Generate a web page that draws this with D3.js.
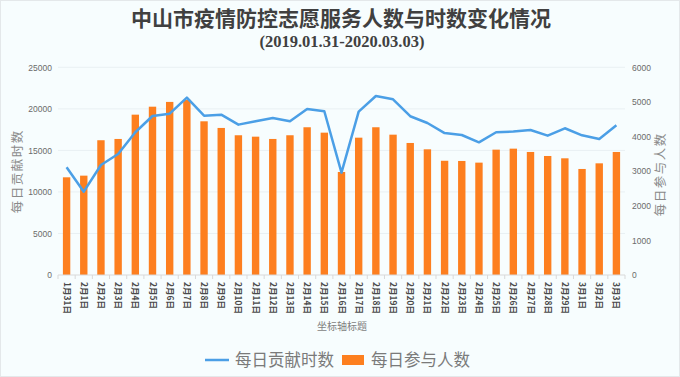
<!DOCTYPE html>
<html><head><meta charset="utf-8">
<script src="https://cdn.jsdelivr.net/npm/d3@7"></script>
<style>
html,body{margin:0;padding:0;background:#f7fdfe;}
svg{display:block;}
</style></head>
<body>
<svg id="c" width="680" height="377"></svg>
<script>
const categories = ["1月31日","2月1日","2月2日","2月3日","2月4日","2月5日","2月6日","2月7日","2月8日","2月9日","2月10日","2月11日","2月12日","2月13日","2月14日","2月15日","2月16日","2月17日","2月18日","2月19日","2月20日","2月21日","2月22日","2月23日","2月24日","2月25日","2月26日","2月27日","2月28日","2月29日","3月1日","3月2日","3月3日"];
// 每日贡献时数 (line, left axis)
const hours = [12970,10030,13240,14570,17180,19140,19420,21350,19180,19300,18100,18500,18900,18500,19990,19710,12320,19660,21550,21150,19110,18300,17080,16850,15970,17180,17260,17460,16770,17660,16810,16370,18020];
// 每日参与人数 (bars, right axis)
const people = [2822,2870,3893,3930,4632,4862,5000,5060,4440,4248,4037,3996,3930,4037,4268,4112,2976,3967,4268,4054,3814,3631,3300,3294,3246,3621,3650,3554,3438,3371,3063,3226,3554];
const leftTicks = [0,5000,10000,15000,20000,25000];
const rightTicks = [0,1000,2000,3000,4000,5000,6000];
const title = "中山市疫情防控志愿服务人数与时数变化情况";
const subtitle = "(2019.01.31-2020.03.03)";
const xTitle = "坐标轴标题";
const leftTitle = "每日贡献时数";
const rightTitle = "每日参与人数";

const svg = d3.select("#c");
const W = 680, H = 377;
const m = {l:58, r:55, t:67.3, b:102};
const pw = W - m.l - m.r, ph = H - m.t - m.b;
const cjk = "'Noto Sans CJK SC','Noto Sans',sans-serif";

svg.append("rect").attr("x",0.5).attr("y",0.5).attr("width",W-1).attr("height",H-1)
  .attr("fill","#f7fdfe").attr("stroke","#e4e8ea");

const x = d3.scaleBand().domain(categories).range([m.l, m.l+pw]).paddingInner(0.57).paddingOuter(0.285);
const xb = d3.scaleBand().domain(categories).range([m.l, m.l+pw]);
const yL = d3.scaleLinear().domain([0,25000]).range([m.t+ph, m.t]);
const yR = d3.scaleLinear().domain([0,6000]).range([m.t+ph, m.t]);

// gridlines
svg.append("g").selectAll("line").data(leftTicks.slice(1)).join("line")
  .attr("x1",m.l).attr("x2",m.l+pw).attr("y1",d=>yL(d)).attr("y2",d=>yL(d))
  .attr("stroke","#e9f0f3").attr("stroke-width",1);

// left axis labels
const gL = svg.append("g").attr("transform",`translate(${m.l},0)`)
  .call(d3.axisLeft(yL).tickValues(leftTicks).tickFormat(d3.format("d")).tickSize(0).tickPadding(6));
gL.select(".domain").remove();
gL.selectAll("text").attr("font-family","'Liberation Sans',Arial,sans-serif").attr("font-size",8.5).attr("fill","#6b6b6b");

const gR = svg.append("g").attr("transform",`translate(${m.l+pw},0)`)
  .call(d3.axisRight(yR).tickValues(rightTicks).tickFormat(d3.format("d")).tickSize(0).tickPadding(7));
gR.select(".domain").remove();
gR.selectAll("text").attr("font-family","'Liberation Sans',Arial,sans-serif").attr("font-size",8.5).attr("fill","#6b6b6b");

// bars
svg.append("g").selectAll("rect").data(people).join("rect")
  .attr("x",(d,i)=>x(categories[i])).attr("width",x.bandwidth())
  .attr("y",d=>yR(d)).attr("height",d=>yR(0)-yR(d)).attr("fill","#fd7f1f");

// bottom axis
const gB = svg.append("g").attr("transform",`translate(0,${m.t+ph})`);
gB.append("line").attr("x1",m.l).attr("x2",m.l+pw).attr("stroke","#d9d9d9");
gB.selectAll("line.tk").data(d3.range(categories.length+1)).join("line").attr("class","tk")
  .attr("x1",i=>m.l+i*xb.step()).attr("x2",i=>m.l+i*xb.step()).attr("y1",0).attr("y2",4).attr("stroke","#d9d9d9");
gB.selectAll("text").data(categories).join("text")
  .attr("transform",d=>`translate(${xb(d)+xb.bandwidth()/2-3},7) rotate(90)`)
  .attr("text-anchor","start").attr("font-family",cjk).attr("font-size",8.5).attr("font-weight","bold")
  .attr("fill","#4a4a4a").text(d=>d);

// line
svg.append("path").datum(hours)
  .attr("d",d3.line().x((d,i)=>xb(categories[i])+xb.bandwidth()/2).y(d=>yL(d)))
  .attr("fill","none").attr("stroke","#4b9fe6").attr("stroke-width",2.5).attr("stroke-linejoin","round");

// titles
svg.append("text").attr("x",341).attr("y",26).attr("text-anchor","middle")
  .attr("font-family",cjk).attr("font-weight","bold").attr("font-size",21).attr("fill","#404040").text(title);
svg.append("text").attr("x",342).attr("y",47).attr("text-anchor","middle")
  .attr("font-family","'Liberation Serif','DejaVu Serif',serif").attr("font-weight","bold").attr("font-size",16.5).attr("fill","#404040").text(subtitle);

svg.append("text").attr("x",342).attr("y",330).attr("text-anchor","middle")
  .attr("font-family",cjk).attr("font-size",10).attr("fill","#7f7f7f").text(xTitle);

svg.append("text").attr("transform",`translate(22,${yL(12500)}) rotate(-90)`).attr("text-anchor","middle")
  .attr("font-family",cjk).attr("font-size",12.5).attr("letter-spacing",1.5).attr("fill","#8a8a8a").text(leftTitle);
svg.append("text").attr("transform",`translate(665,${yL(12500)+3}) rotate(-90)`).attr("text-anchor","middle")
  .attr("font-family",cjk).attr("font-size",12.5).attr("letter-spacing",1.5).attr("fill","#8a8a8a").text(rightTitle);

// legend
const lg = svg.append("g");
lg.append("line").attr("x1",205).attr("x2",229).attr("y1",360).attr("y2",360).attr("stroke","#4b9fe6").attr("stroke-width",2.5);
lg.append("text").attr("x",235).attr("y",366).attr("font-family",cjk).attr("font-size",16.5).attr("fill","#7a7a7a").text(leftTitle);
lg.append("rect").attr("x",342).attr("y",355).attr("width",22).attr("height",10).attr("fill","#fd7f1f");
lg.append("text").attr("x",371).attr("y",366).attr("font-family",cjk).attr("font-size",16.5).attr("fill","#7a7a7a").text(rightTitle);
</script>
</body></html>
